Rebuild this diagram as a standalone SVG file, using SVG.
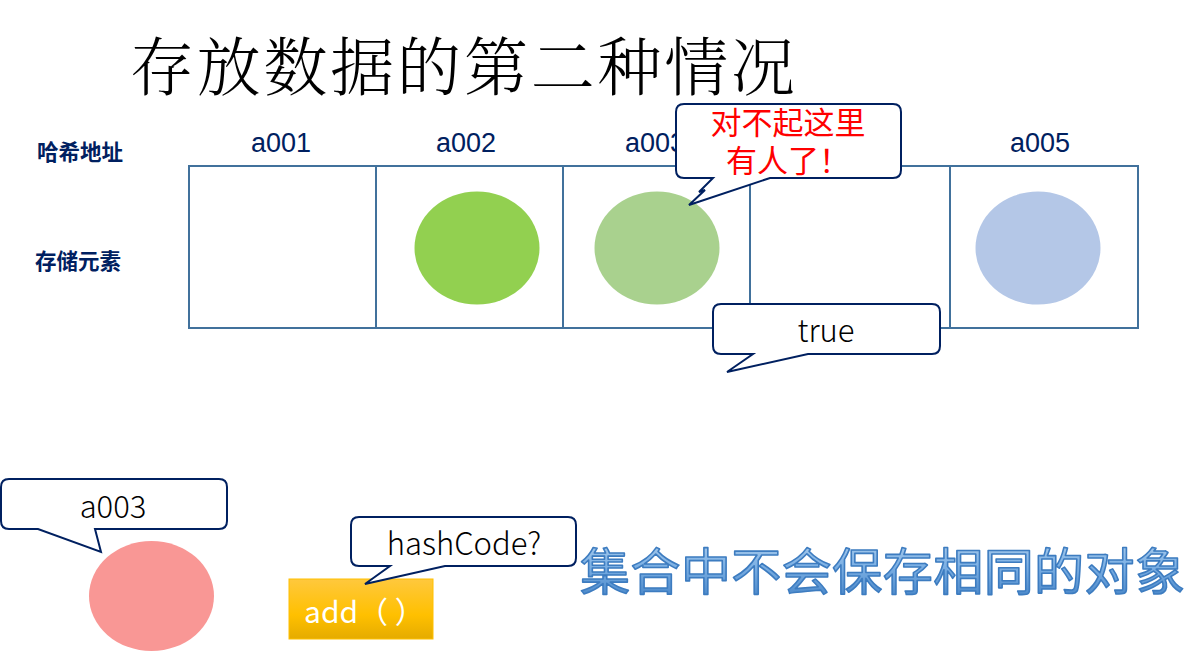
<svg xmlns="http://www.w3.org/2000/svg" width="1204" height="655" viewBox="0 0 1204 655">
<style>
.cell{fill:#fff;stroke:#41719C;stroke-width:2}
.addr{font-family:"Liberation Sans",Arial,sans-serif;font-size:27px;fill:#002060;text-anchor:middle}
.side{font-family:"Noto Sans CJK SC",sans-serif;font-size:21.5px;font-weight:bold;fill:#002060}
.bub{fill:#fff;stroke:#002060;stroke-width:2;stroke-linejoin:miter}
.bt{font-family:"Noto Sans CJK SC","Open Sans",sans-serif;font-size:31px;font-weight:300;fill:#000;text-anchor:middle}
.red{font-family:"Noto Sans CJK SC",sans-serif;font-size:31px;fill:#FF0000;text-anchor:middle}
</style>
<defs>
<linearGradient id="gold" x1="0" y1="0" x2="0" y2="1">
<stop offset="0" stop-color="#FFC83D"/>
<stop offset="0.6" stop-color="#FFC000"/>
<stop offset="1" stop-color="#E5AB00"/>
</linearGradient>
<linearGradient id="blue" x1="0" y1="0" x2="0" y2="1">
<stop offset="0" stop-color="#BDD7EE"/>
<stop offset="0.45" stop-color="#7FB2E5"/>
<stop offset="1" stop-color="#3F7FC4"/>
</linearGradient>
</defs>

<g id="title">
<text x="130" y="90" font-family="'Noto Serif CJK SC','Noto Sans CJK SC',serif" font-size="64" font-weight="300" fill="#000" textLength="665" lengthAdjust="spacing">存放数据的第二种情况</text>
</g>

<g id="row-labels">
<text class="side" x="37" y="160">哈希地址</text>
<text class="side" x="35" y="269">存储元素</text>
</g>

<g id="table">
<rect class="cell" x="189" y="166" width="187" height="162"/>
<rect class="cell" x="376" y="166" width="187" height="162"/>
<rect class="cell" x="563" y="166" width="187" height="162"/>
<rect class="cell" x="750" y="166" width="200" height="162"/>
<rect class="cell" x="950" y="166" width="188" height="162"/>
</g>

<g id="addresses">
<text class="addr" x="281" y="152">a001</text>
<text class="addr" x="466" y="152">a002</text>
<text class="addr" x="655" y="152">a003</text>
<text class="addr" x="1040" y="152">a005</text>
</g>

<g id="elem-a002"><ellipse cx="477" cy="248" rx="62.5" ry="56.5" fill="#92D050"/></g>
<g id="elem-a003"><ellipse cx="657" cy="248" rx="62.5" ry="56.5" fill="#A9D18E"/></g>
<g id="elem-a005"><ellipse cx="1038" cy="248" rx="62.5" ry="56.5" fill="#B4C7E7"/></g>

<g id="bubble-sorry">
<path class="bub" d="M684,104 H893 Q901,104 901,112 V170 Q901,178 893,178 H770 L689,205 L705,190 L699,192 L713,178 H684 Q676,178 676,170 V112 Q676,104 684,104 Z"/>
<text class="red"><tspan x="788" y="134">对不起这里</tspan><tspan x="788" y="172">有人了！</tspan></text>
</g>

<g id="bubble-true">
<path class="bub" d="M721,304 H932 Q940,304 940,312 V346 Q940,354 932,354 H808 L727,372 L753,354 H721 Q713,354 713,346 V312 Q713,304 721,304 Z"/>
<text class="bt" x="826" y="342">true</text>
</g>

<g id="new-element"><ellipse cx="151.5" cy="596" rx="62.5" ry="55" fill="#F99795"/></g>

<g id="bubble-a003">
<path class="bub" d="M9,479 H219 Q227,479 227,487 V521 Q227,529 219,529 H95 L101,552 L38,529 H9 Q1,529 1,521 V487 Q1,479 9,479 Z"/>
<text class="bt" x="113" y="518">a003</text>
</g>

<g id="add">
<rect x="289" y="579" width="144" height="60" fill="url(#gold)" stroke="#FFC000" stroke-width="1"/>
<text x="304" y="623" font-family="'Noto Sans CJK SC','Open Sans',sans-serif" font-size="30" fill="#fff">add（ ）</text>
</g>

<g id="bubble-hash">
<path class="bub" d="M359,517 H568 Q576,517 576,525 V558 Q576,566 568,566 H445 L365,584 L390,566 H359 Q351,566 351,558 V525 Q351,517 359,517 Z"/>
<text class="bt" x="464" y="555">hashCode?</text>
</g>

<g id="conclusion">
<text x="580" y="590" font-family="'Noto Sans CJK SC',sans-serif" font-size="50" font-weight="normal" fill="url(#blue)" stroke="#3D7CC0" stroke-width="1.6" stroke-linejoin="round" textLength="605" lengthAdjust="spacing">集合中不会保存相同的对象</text>
</g>
</svg>
